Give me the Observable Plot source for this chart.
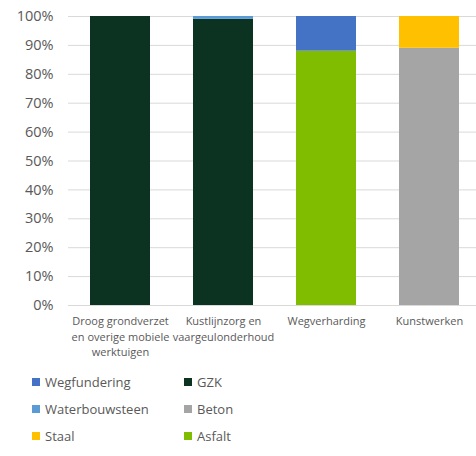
<!DOCTYPE html>
<html>
<head>
<meta charset="utf-8">
<script src="https://cdn.jsdelivr.net/npm/d3@7"></script>
<script src="https://cdn.jsdelivr.net/npm/@observablehq/plot@0.6"></script>
<style>
  body { margin: 0; background: #fff; font-family: "Open Sans", sans-serif; overflow: hidden; }
  #wrap { position: relative; width: 476px; height: 456px; overflow: hidden; }
  #chart svg { overflow: hidden; }
  .legend { position: absolute; left: 0; top: 365px; width: 476px; height: 91px; }
  .item { position: absolute; font-size: 13px; color: #595959; display: flex; align-items: center; white-space: nowrap; }
  .sw { width: 8px; height: 8px; margin-right: 5px; display: inline-block; }
</style>
</head>
<body>
<div id="wrap"><div id="chart"></div><div class="legend" id="legend"></div></div>
<script>
const categories = ["Droog grondverzet en overige mobiele werktuigen", "Kustlijnzorg en vaargeulonderhoud", "Wegverharding", "Kunstwerken"];
const tickLabels = ["Droog grondverzet\nen overige mobiele\nwerktuigen", "Kustlijnzorg en\nvaargeulonderhoud", "Wegverharding", "Kunstwerken"];
const yTicks = [0, 0.1, 0.2, 0.3, 0.4, 0.5, 0.6, 0.7, 0.8, 0.9, 1.0];

// stacked bottom to top
const seriesNames = ["GZK", "Beton", "Asfalt", "Wegfundering", "Waterbouwsteen", "Staal"];
const seriesColors = ["#0c3321", "#a5a5a5", "#80bc00", "#4472c4", "#5b9bd5", "#ffc000"];
const GZK = [1.00, 0.99, 0, 0];
const Beton = [0, 0, 0, 0.89];
const Asfalt = [0, 0, 0.88, 0];
const Wegfundering = [0, 0, 0.12, 0];
const Waterbouwsteen = [0, 0.01, 0, 0];
const Staal = [0, 0, 0, 0.11];
const seriesValues = [GZK, Beton, Asfalt, Wegfundering, Waterbouwsteen, Staal];

const legendCols = [["Wegfundering", "Waterbouwsteen", "Staal"], ["GZK", "Beton", "Asfalt"]];

const rows = [];
seriesNames.forEach((s, i) => {
  categories.forEach((c, j) => {
    rows.push({category: c, series: s, value: seriesValues[i][j]});
  });
});

const chart = Plot.plot({
  width: 476,
  height: 365,
  marginTop: 16,
  marginBottom: 60,
  marginLeft: 68,
  marginRight: -4,
  style: {fontFamily: "'Open Sans', sans-serif", background: "#fff"},
  x: {domain: categories, paddingInner: 0.42, paddingOuter: 0.21, label: null},
  y: {domain: [0, 1], label: null},
  color: {domain: seriesNames, range: seriesColors},
  marks: [
    Plot.ruleY(yTicks, {stroke: "#d9d9d9", strokeWidth: 1}),
    Plot.barY(rows, Plot.stackY({order: null}, {x: "category", y: "value", fill: "series"})),
    Plot.axisY({ticks: yTicks, tickSize: 0, tickPadding: 15, tickFormat: d => Math.round(d * 100) + "%", fontSize: 14.5, fill: "#595959", label: null}),
    Plot.axisX({tickSize: 0, tickPadding: 9, tickFormat: (d) => tickLabels[categories.indexOf(d)], fontSize: 11, fill: "#595959", lineHeight: 1.4, label: null})
  ]
});
document.getElementById("chart").appendChild(chart);

const legend = document.getElementById("legend");
const colX = [32, 184];
const rowY = [17, 44, 71];
legendCols.forEach((col, ci) => {
  col.forEach((name, ri) => {
    const it = document.createElement("div");
    it.className = "item";
    it.style.left = colX[ci] + "px";
    it.style.top = (rowY[ri] - 9) + "px";
    const sw = document.createElement("span");
    sw.className = "sw";
    sw.style.background = seriesColors[seriesNames.indexOf(name)];
    it.appendChild(sw);
    it.appendChild(document.createTextNode(name));
    legend.appendChild(it);
  });
});
</script>
</body>
</html>
